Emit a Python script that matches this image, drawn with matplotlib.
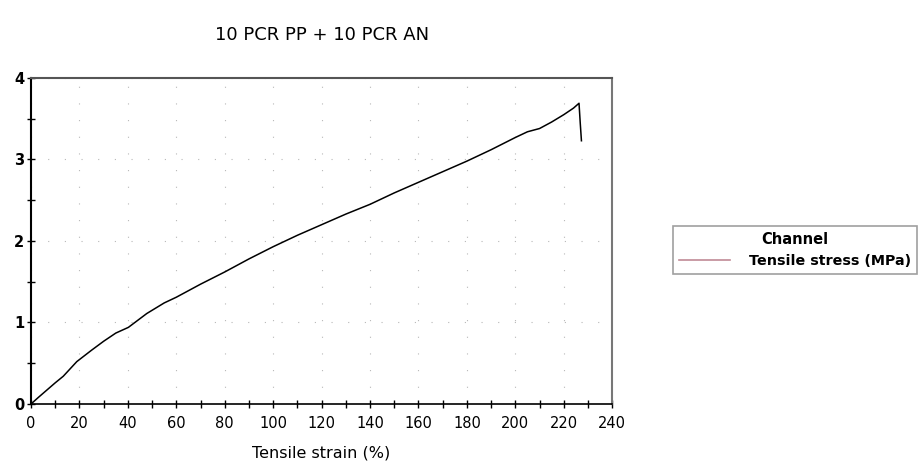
import numpy as np
import matplotlib.pyplot as plt
from matplotlib.lines import Line2D

# curve
strain = [0, 3, 6.5, 10, 13.3, 18.9, 25, 30, 35, 40.2, 47.8, 55, 60, 70, 80,
          90, 100, 110, 120, 130, 140, 150, 160, 170, 180, 190, 200, 205,
          210, 215, 220, 224, 226.3, 226.8, 227.3]
stress = [0, 0.08, 0.17, 0.26, 0.34, 0.52, 0.66, 0.77, 0.87, 0.94, 1.11, 1.24,
          1.31, 1.47, 1.62, 1.78, 1.93, 2.07, 2.2, 2.33, 2.45, 2.59, 2.72,
          2.85, 2.98, 3.12, 3.27, 3.34, 3.38, 3.46, 3.55, 3.63, 3.69, 3.45, 3.23]

xticks = np.arange(0, 241, 20)
yticks = [0, 1, 2, 3, 4]

fig = plt.figure(figsize=(9.21, 4.71), dpi=100)
ax = fig.add_axes([0.0337, 0.1423, 0.631, 0.6921])

ax.plot(strain, stress, color='black', lw=1.1)

ax.set_xlim(0, 240)
ax.set_ylim(0, 4)
ax.set_xticks(xticks)
ax.set_xticks(np.arange(0, 241, 10), minor=True)
ax.set_yticks(yticks)
ax.set_yticks(np.arange(0, 4.01, 0.5), minor=True)
ax.tick_params(which='both', direction='inout', length=6, width=1, color='black')
ax.tick_params(axis='x', labelsize=10.5, pad=6)
ax.tick_params(axis='y', labelsize=10.5, pad=2)
for lab in ax.get_yticklabels():
    lab.set_fontweight('bold')

ax.grid(True, color='#b8b8b8', linestyle=(0, (1, 14)), lw=0.8)

ax.spines['left'].set_color('black')
ax.spines['bottom'].set_color('black')
ax.spines['left'].set_linewidth(1.5)
ax.spines['bottom'].set_linewidth(1.2)
ax.spines['top'].set_color('#555555')
ax.spines['right'].set_color('#777777')
ax.spines['top'].set_linewidth(1.5)
ax.spines['right'].set_linewidth(1.5)

ax.set_xlabel('Tensile strain (%)', fontsize=11.5, labelpad=10)
fig.text(0.35, 0.925, '10 PCR PP + 10 PCR AN', fontsize=13, ha='center', va='center')

handle = Line2D([0], [0], color='#c08a96', lw=1.2)
leg = fig.legend([handle], ['Tensile stress (MPa)'], title='Channel',
                 loc='center', bbox_to_anchor=(0.863, 0.469), fontsize=10.3,
                 title_fontsize=10.5, frameon=True, fancybox=False,
                 handlelength=3.6, handletextpad=1.3, borderpad=0.4,
                 borderaxespad=0.2, labelspacing=0.3)
leg.get_frame().set_edgecolor('#888888')
leg.get_frame().set_linewidth(1.2)
leg._legend_box.sep = 5
leg.get_title().set_fontweight('semibold')
for t in leg.get_texts():
    t.set_fontweight('semibold')

fig.savefig('out.png', dpi=100)
